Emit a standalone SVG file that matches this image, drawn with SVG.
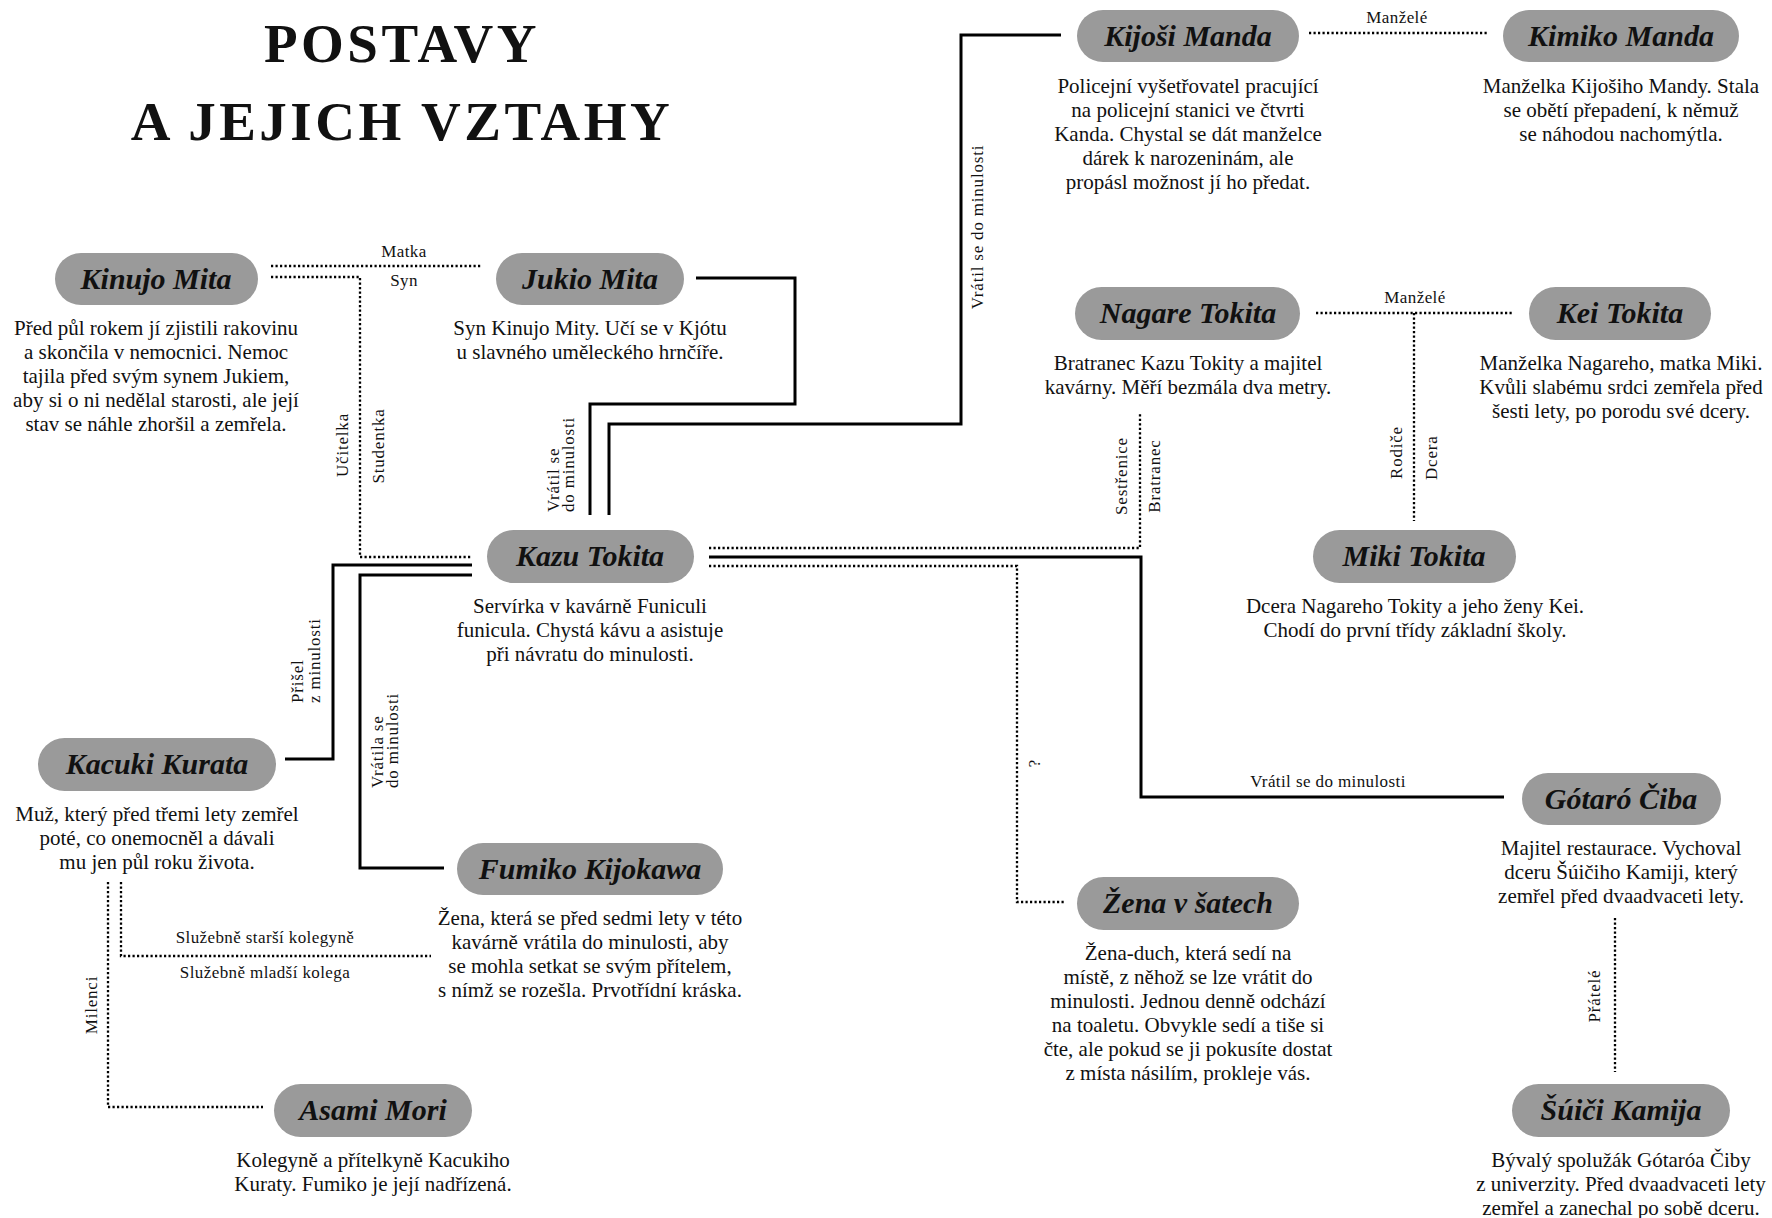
<svg xmlns="http://www.w3.org/2000/svg" width="1772" height="1218" viewBox="0 0 1772 1218">
<style>
.pill{fill:#9a9a9a}
.name{font-family:"Liberation Serif",serif;font-weight:bold;font-style:italic;font-size:30px;text-anchor:middle;fill:#111}
.desc{font-family:"Liberation Serif",serif;font-size:21px;text-anchor:middle;fill:#111}
.lbl{font-family:"Liberation Serif",serif;font-size:17px;letter-spacing:0.4px;text-anchor:middle;fill:#111}
.rot{font-family:"Liberation Serif",serif;font-size:17px;letter-spacing:0.8px;text-anchor:middle;fill:#111}
.st{text-anchor:start}
.solid{fill:none;stroke:#000;stroke-width:3}
.dot{fill:none;stroke:#000;stroke-width:2.3;stroke-dasharray:2.2 2.3}
.title{font-family:"Liberation Serif",serif;font-weight:bold;font-size:55px;letter-spacing:3.5px;text-anchor:middle;fill:#111}
</style>
<rect width="1772" height="1218" fill="#fff"/>
<g id="title">
<text class="title" x="402" y="62">POSTAVY</text>
<text class="title" x="402" y="140">A JEJICH VZTAHY</text>
</g>
<g id="connectors">
<path class="dot" d="M271 266 H482"/>
<text class="lbl" x="404" y="257">Matka</text>
<path class="dot" d="M271 277 H360 V557 H472"/>
<text class="lbl" x="404" y="286">Syn</text>
<text class="rot" transform="translate(348 445) rotate(-90)">Učitelka</text>
<text class="rot" transform="translate(384 446) rotate(-90)">Studentka</text>
<path class="solid" d="M696 278 H795 V404 H590 V515"/>
<text class="rot st" transform="translate(559 512) rotate(-90)">Vrátil se</text>
<text class="rot st" transform="translate(574 512) rotate(-90)">do minulosti</text>
<path class="solid" d="M1061 35 H961 V424 H609 V515"/>
<text class="rot" transform="translate(983 227) rotate(-90)">Vrátil se do minulosti</text>
<path class="dot" d="M1309 33 H1487"/>
<text class="lbl" x="1397" y="23">Manželé</text>
<path class="dot" d="M1316 313 H1514"/>
<text class="lbl" x="1415" y="303">Manželé</text>
<path class="dot" d="M1414 313 V521"/>
<text class="rot st" transform="translate(1402 479) rotate(-90)">Rodiče</text>
<text class="rot st" transform="translate(1437 480) rotate(-90)">Dcera</text>
<path class="dot" d="M709 548 H1140 V412"/>
<text class="rot" transform="translate(1127 476) rotate(-90)">Sestřenice</text>
<text class="rot" transform="translate(1160 476) rotate(-90)">Bratranec</text>
<path class="solid" d="M709 557 H1141 V797 H1504"/>
<text class="lbl" x="1328" y="787">Vrátil se do minulosti</text>
<path class="dot" d="M709 566 H1017 V902 H1064"/>
<text class="rot" transform="translate(1040 763) rotate(-90)">?</text>
<path class="solid" d="M285 759 H333 V565 H472"/>
<text class="rot st" transform="translate(303 703) rotate(-90)">Přišel</text>
<text class="rot st" transform="translate(320 703) rotate(-90)">z minulosti</text>
<path class="solid" d="M444 868 H360 V575 H472"/>
<text class="rot st" transform="translate(383 788) rotate(-90)">Vrátila se</text>
<text class="rot st" transform="translate(398 788) rotate(-90)">do minulosti</text>
<path class="dot" d="M121 882 V956 H431"/>
<text class="lbl" x="265" y="943">Služebně starší kolegyně</text>
<text class="lbl" x="265" y="978">Služebně mladší kolega</text>
<path class="dot" d="M108 882 V1107 H263"/>
<text class="rot" transform="translate(97 1005) rotate(-90)">Milenci</text>
<path class="dot" d="M1615 918 V1072"/>
<text class="rot" transform="translate(1600 996) rotate(-90)">Přátelé</text>
</g>
<g id="kinujo-mita">
<rect class="pill" x="55" y="253" width="203" height="52" rx="26"/>
<text class="name" x="156" y="289">Kinujo Mita</text>
<text class="desc"><tspan x="156" y="335">Před půl rokem jí zjistili rakovinu</tspan><tspan x="156" y="359">a skončila v nemocnici. Nemoc</tspan><tspan x="156" y="383">tajila před svým synem Jukiem,</tspan><tspan x="156" y="407">aby si o ni nedělal starosti, ale její</tspan><tspan x="156" y="431">stav se náhle zhoršil a zemřela.</tspan></text>
</g>
<g id="jukio-mita">
<rect class="pill" x="496" y="253" width="188" height="52" rx="26"/>
<text class="name" x="590" y="289">Jukio Mita</text>
<text class="desc"><tspan x="590" y="335">Syn Kinujo Mity. Učí se v Kjótu</tspan><tspan x="590" y="359">u slavného uměleckého hrnčíře.</tspan></text>
</g>
<g id="kijosi-manda">
<rect class="pill" x="1077" y="10" width="222" height="52" rx="26"/>
<text class="name" x="1188" y="46">Kijoši Manda</text>
<text class="desc"><tspan x="1188" y="93">Policejní vyšetřovatel pracující</tspan><tspan x="1188" y="117">na policejní stanici ve čtvrti</tspan><tspan x="1188" y="141">Kanda. Chystal se dát manželce</tspan><tspan x="1188" y="165">dárek k narozeninám, ale</tspan><tspan x="1188" y="189">propásl možnost jí ho předat.</tspan></text>
</g>
<g id="kimiko-manda">
<rect class="pill" x="1503" y="10" width="236" height="52" rx="26"/>
<text class="name" x="1621" y="46">Kimiko Manda</text>
<text class="desc"><tspan x="1621" y="93">Manželka Kijošiho Mandy. Stala</tspan><tspan x="1621" y="117">se obětí přepadení, k němuž</tspan><tspan x="1621" y="141">se náhodou nachomýtla.</tspan></text>
</g>
<g id="nagare-tokita">
<rect class="pill" x="1075" y="287" width="225" height="53" rx="26.5"/>
<text class="name" x="1188" y="323">Nagare Tokita</text>
<text class="desc"><tspan x="1188" y="370">Bratranec Kazu Tokity a majitel</tspan><tspan x="1188" y="394">kavárny. Měří bezmála dva metry.</tspan></text>
</g>
<g id="kei-tokita">
<rect class="pill" x="1529" y="287" width="182" height="53" rx="26.5"/>
<text class="name" x="1620" y="323">Kei Tokita</text>
<text class="desc"><tspan x="1621" y="370">Manželka Nagareho, matka Miki.</tspan><tspan x="1621" y="394">Kvůli slabému srdci zemřela před</tspan><tspan x="1621" y="418">šesti lety, po porodu své dcery.</tspan></text>
</g>
<g id="kazu-tokita">
<rect class="pill" x="487" y="530" width="207" height="53" rx="26.5"/>
<text class="name" x="590" y="566">Kazu Tokita</text>
<text class="desc"><tspan x="590" y="613">Servírka v kavárně Funiculi</tspan><tspan x="590" y="637">funicula. Chystá kávu a asistuje</tspan><tspan x="590" y="661">při návratu do minulosti.</tspan></text>
</g>
<g id="miki-tokita">
<rect class="pill" x="1313" y="530" width="203" height="53" rx="26.5"/>
<text class="name" x="1414" y="566">Miki Tokita</text>
<text class="desc"><tspan x="1415" y="613">Dcera Nagareho Tokity a jeho ženy Kei.</tspan><tspan x="1415" y="637">Chodí do první třídy základní školy.</tspan></text>
</g>
<g id="kacuki-kurata">
<rect class="pill" x="38" y="738" width="238" height="53" rx="26.5"/>
<text class="name" x="157" y="774">Kacuki Kurata</text>
<text class="desc"><tspan x="157" y="821">Muž, který před třemi lety zemřel</tspan><tspan x="157" y="845">poté, co onemocněl a dávali</tspan><tspan x="157" y="869">mu jen půl roku života.</tspan></text>
</g>
<g id="fumiko-kijokawa">
<rect class="pill" x="457" y="843" width="266" height="52" rx="26"/>
<text class="name" x="590" y="879">Fumiko Kijokawa</text>
<text class="desc"><tspan x="590" y="925">Žena, která se před sedmi lety v této</tspan><tspan x="590" y="949">kavárně vrátila do minulosti, aby</tspan><tspan x="590" y="973">se mohla setkat se svým přítelem,</tspan><tspan x="590" y="997">s nímž se rozešla. Prvotřídní kráska.</tspan></text>
</g>
<g id="gotaro-ciba">
<rect class="pill" x="1522" y="773" width="199" height="52" rx="26"/>
<text class="name" x="1621" y="809">Gótaró Čiba</text>
<text class="desc"><tspan x="1621" y="855">Majitel restaurace. Vychoval</tspan><tspan x="1621" y="879">dceru Šúičiho Kamiji, který</tspan><tspan x="1621" y="903">zemřel před dvaadvaceti lety.</tspan></text>
</g>
<g id="zena-v-satech">
<rect class="pill" x="1077" y="877" width="222" height="53" rx="26.5"/>
<text class="name" x="1188" y="913">Žena v šatech</text>
<text class="desc"><tspan x="1188" y="960">Žena-duch, která sedí na</tspan><tspan x="1188" y="984">místě, z něhož se lze vrátit do</tspan><tspan x="1188" y="1008">minulosti. Jednou denně odchází</tspan><tspan x="1188" y="1032">na toaletu. Obvykle sedí a tiše si</tspan><tspan x="1188" y="1056">čte, ale pokud se ji pokusíte dostat</tspan><tspan x="1188" y="1080">z místa násilím, prokleje vás.</tspan></text>
</g>
<g id="asami-mori">
<rect class="pill" x="274" y="1084" width="198" height="53" rx="26.5"/>
<text class="name" x="373" y="1120">Asami Mori</text>
<text class="desc"><tspan x="373" y="1167">Kolegyně a přítelkyně Kacukiho</tspan><tspan x="373" y="1191">Kuraty. Fumiko je její nadřízená.</tspan></text>
</g>
<g id="suici-kamija">
<rect class="pill" x="1512" y="1084" width="218" height="53" rx="26.5"/>
<text class="name" x="1621" y="1120">Šúiči Kamija</text>
<text class="desc"><tspan x="1621" y="1167">Bývalý spolužák Gótaróa Čiby</tspan><tspan x="1621" y="1191">z univerzity. Před dvaadvaceti lety</tspan><tspan x="1621" y="1215">zemřel a zanechal po sobě dceru.</tspan></text>
</g>
</svg>
